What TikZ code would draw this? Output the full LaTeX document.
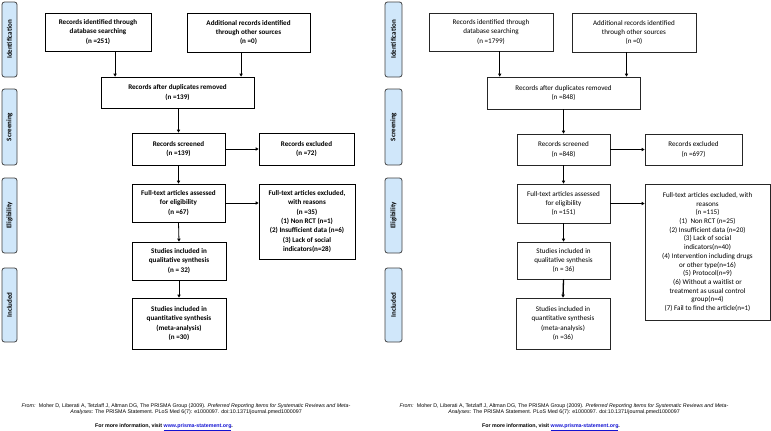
\documentclass[tikz,border=0pt]{standalone}
\usepackage{fontspec}
\setmainfont{Carlito}
\newfontfamily\arialfont{Liberation Sans}
\usetikzlibrary{arrows.meta, calc}
\definecolor{phaseblue}{RGB}{208,231,250}
\definecolor{linkblue}{RGB}{20,20,210}

\begin{document}
\begin{tikzpicture}[x=1pt, y=-1pt,
    box/.style={draw=black!85, line width=0.7pt, fill=white, inner sep=0pt, align=center,
        font=\fontsize{7.1}{9.3}\selectfont},
    boxL/.style={box, draw=black, font=\fontsize{7.1}{9.3}\selectfont\bfseries},
    phase/.style={draw=black!75, line width=0.8pt, fill=phaseblue, rounded corners=2.5pt,
        inner sep=0pt, rotate=90, font=\fontsize{7}{8}\selectfont\bfseries},
    arr/.style={-{Triangle[length=3pt,width=3.2pt]}, line width=0.8pt},
    arrR/.style={arr, line width=1.3pt},
    foot/.style={align=center, inner sep=0pt, font=\arialfont\fontsize{5.3}{6.4}\selectfont}]
    \useasboundingbox (0,0) rectangle (771,431);

    % left diagram: phases
    \node[phase, minimum width=75pt, minimum height=15pt] (phIdL) at (9.5,39.5) {Identification};
    \node[phase, minimum width=76pt, minimum height=15pt] (phScL) at (9.5,127) {Screening};
    \node[phase, minimum width=75pt, minimum height=15pt] (phElL) at (9.5,215.5) {Eligibility};
    \node[phase, minimum width=74pt, minimum height=15pt] (phInL) at (9.5,305) {Included};

    % left diagram: boxes
    \node[boxL, minimum width=106pt, minimum height=38pt] (idL1) at (98,32)
        {Records identified through\\database searching\\(n =251)};
    \node[boxL, minimum width=123pt, minimum height=39pt] (idL2) at (248.5,32.5)
        {Additional records identified\\through other sources\\(n =0)};
    \node[boxL, minimum width=153pt, minimum height=31pt] (dupL) at (177.5,92.5)
        {Records after duplicates removed\\(n =139)};
    \node[boxL, minimum width=93pt, minimum height=32pt] (scrL) at (178.5,149)
        {Records screened\\(n =139)};
    \node[boxL, minimum width=95pt, minimum height=32pt] (excL) at (306.5,149)
        {Records excluded\\(n =72)};
    \node[boxL, minimum width=93pt, minimum height=38pt] (ftL) at (178.5,203)
        {Full-text articles assessed\\for eligibility\\(n =67)};
    \node[boxL, minimum width=96pt, minimum height=75pt] (ftxL) at (307,221.5)
        {Full-text articles excluded,\\with reasons\\(n =35)\\(1) Non RCT (n=1)\\(2) Insufficient data (n=6)\\(3) Lack of social\\indicators(n=28)};
    \node[boxL, minimum width=94pt, minimum height=38pt] (qualL) at (179,261)
        {Studies included in\\qualitative synthesis\\(n = 32)};
    \node[boxL, minimum width=94pt, minimum height=51pt] (quanL) at (179,323.5)
        {Studies included in\\quantitative synthesis\\(meta-analysis)\\(n =30)};

    % left diagram: arrows
    \coordinate (aL1) at ($(idL1.south west)!0.66!(idL1.south east)$);
    \coordinate (aL2) at ($(idL2.south west)!0.44!(idL2.south east)$);
    \draw[arr] (aL1) -- (aL1 |- dupL.north);
    \draw[arr] (aL2) -- (aL2 |- dupL.north);
    \draw[arr] (dupL.south -| scrL.north) -- (scrL.north);
    \draw[arr] (scrL.east) -- (excL.west);
    \draw[arr] (scrL.south) -- (ftL.north);
    \draw[arr] (ftL.east) -- (ftL.east -| ftxL.west);
    \draw[arr] (ftL.south) -- (qualL.north);
    \draw[arr] (qualL.south) -- (quanL.north);

    % left diagram: source
    \node[foot] (srcL) at (186,409)
        {\textit{From:}~ Moher D, Liberati A, Tetzlaff J, Altman DG, The PRISMA Group (2009). \textit{Preferred Reporting Items for Systematic Reviews and Meta-}\\\textit{Analyses}: The PRISMA Statement. PLoS Med 6(7): e1000097. doi:10.1371/journal.pmed1000097};
    \node[foot, font=\arialfont\fontsize{5.3}{6.4}\selectfont\bfseries] (infoL) at (164,427)
        {For more information, visit \textcolor{linkblue}{\underline{www.prisma-statement.org}}.};

    % right diagram: phases
    \node[phase, minimum width=75pt, minimum height=17pt] (phIdR) at (393.5,39.5) {Identification};
    \node[phase, minimum width=76pt, minimum height=17pt] (phScR) at (393.5,127) {Screening};
    \node[phase, minimum width=75pt, minimum height=17pt] (phElR) at (393.5,215.5) {Eligibility};
    \node[phase, minimum width=74pt, minimum height=17pt] (phInR) at (393.5,305) {Included};

    % right diagram: boxes
    \node[box, minimum width=124pt, minimum height=38pt] (idR1) at (491,32)
        {Records identified through\\database searching\\(n =1799)};
    \node[box, minimum width=124pt, minimum height=39pt] (idR2) at (634,32.5)
        {Additional records identified\\through other sources\\(n =0)};
    \node[box, minimum width=153pt, minimum height=32pt] (dupR) at (563.5,93)
        {Records after duplicates removed\\(n =848)};
    \node[box, minimum width=93pt, minimum height=31pt] (scrR) at (563.5,149.5)
        {Records screened\\(n =848)};
    \node[box, minimum width=97pt, minimum height=31pt] (excR) at (693.5,149.5)
        {Records excluded\\(n =697)};
    \node[box, minimum width=93pt, minimum height=39pt] (ftR) at (563.5,203.5)
        {Full-text articles assessed\\for eligibility\\(n =151)};
    \node[box, minimum width=125pt, minimum height=136pt, font=\fontsize{7.1}{8.7}\selectfont] (ftxR) at (707.5,252)
        {Full-text articles excluded, with\\reasons\\(n =115)\\(1)~ Non RCT (n=25)\\(2) Insufficient data (n=20)\\(3) Lack of social\\indicators(n=40)\\(4) Intervention including drugs\\or other type(n=16)\\(5) Protocol(n=9)\\(6) Without a waitlist or\\treatment as usual control\\group(n=4)\\(7) Fail to find the article(n=1)};
    \node[box, minimum width=93pt, minimum height=37pt] (qualR) at (563.5,260.5)
        {Studies included in\\qualitative synthesis\\(n = 36)};
    \node[box, minimum width=94pt, minimum height=51pt] (quanR) at (563,323.5)
        {Studies included in\\quantitative synthesis\\(meta-analysis)\\(n =36)};

    % right diagram: arrows
    \coordinate (aR1) at ($(idR1.south west)!0.57!(idR1.south east)$);
    \coordinate (aR2) at ($(idR2.south west)!0.44!(idR2.south east)$);
    \draw[arrR] (aR1) -- (aR1 |- dupR.north);
    \draw[arrR] (aR2) -- (aR2 |- dupR.north);
    \draw[arrR] (dupR.south -| scrR.north) -- (scrR.north);
    \draw[arrR] (scrR.east) -- (excR.west);
    \draw[arrR] (scrR.south) -- (ftR.north);
    \draw[arrR] (ftR.east) -- (ftR.east -| ftxR.west);
    \draw[arrR] (ftR.south) -- (qualR.north);
    \draw[arrR] (qualR.south) -- (quanR.north);

    % right diagram: source
    \node[foot] (srcR) at (564,409)
        {\textit{From:}~ Moher D, Liberati A, Tetzlaff J, Altman DG, The PRISMA Group (2009). \textit{Preferred Reporting Items for Systematic Reviews and Meta-}\\\textit{Analyses}: The PRISMA Statement. PLoS Med 6(7): e1000097. doi:10.1371/journal.pmed1000097};
    \node[foot, font=\arialfont\fontsize{5.3}{6.4}\selectfont\bfseries] (infoR) at (551,427)
        {For more information, visit \textcolor{linkblue}{\underline{www.prisma-statement.org}}.};
\end{tikzpicture}
\end{document}
